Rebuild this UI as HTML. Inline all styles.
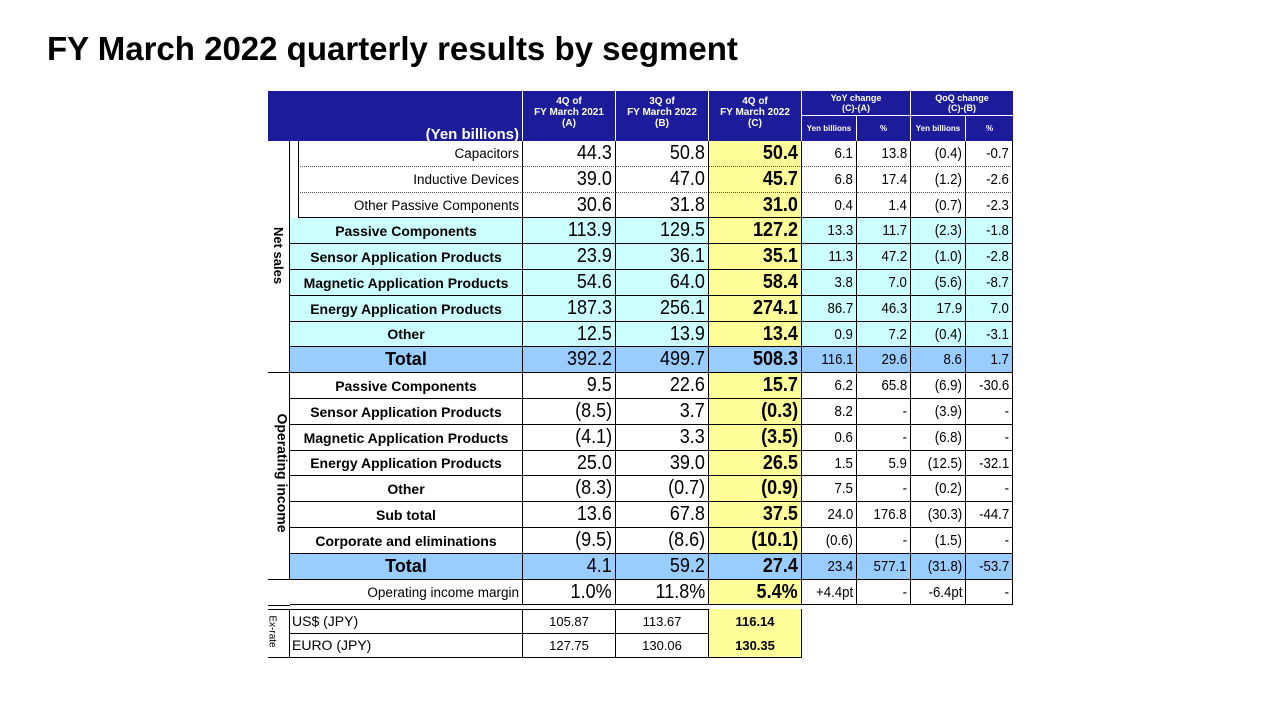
<!DOCTYPE html>
<html><head><meta charset="utf-8">
<style>
body{margin:0;width:1281px;height:720px;background:#fff;position:relative;overflow:hidden;font-family:"Liberation Sans",Arial,sans-serif;}
.t{position:absolute;left:47px;top:30px;font-size:33px;font-weight:bold;color:#000;}
.c{position:absolute;box-sizing:border-box;display:flex;align-items:center;white-space:nowrap;overflow:visible;color:#000;}
.r{justify-content:flex-end;padding-right:3px;}
.m{justify-content:center;}
.n{transform-origin:right center;}
.h{color:#fff;font-weight:bold;justify-content:center;text-align:center;line-height:11px;font-size:10px;background:#1c1c9a;}
.vl{position:absolute;font-weight:bold;font-size:13px;transform:rotate(90deg);white-space:nowrap;}
</style></head><body>
<div class="t">FY March 2022 quarterly results by segment</div>
<div id="tbl"></div>
<script>
const X=[268,290,523,616,709,802,857,911,966,1013];
const names=["Capacitors","Inductive Devices","Other Passive Components","Passive Components","Sensor Application Products","Magnetic Application Products","Energy Application Products","Other","Total","Passive Components","Sensor Application Products","Magnetic Application Products","Energy Application Products","Other","Sub total","Corporate and eliminations","Total","Operating income margin"];
const colA=["44.3","39.0","30.6","113.9","23.9","54.6","187.3","12.5","392.2","9.5","(8.5)","(4.1)","25.0","(8.3)","13.6","(9.5)","4.1","1.0%"];
const colB=["50.8","47.0","31.8","129.5","36.1","64.0","256.1","13.9","499.7","22.6","3.7","3.3","39.0","(0.7)","67.8","(8.6)","59.2","11.8%"];
const colC=["50.4","45.7","31.0","127.2","35.1","58.4","274.1","13.4","508.3","15.7","(0.3)","(3.5)","26.5","(0.9)","37.5","(10.1)","27.4","5.4%"];
const yoyAmt=["6.1","6.8","0.4","13.3","11.3","3.8","86.7","0.9","116.1","6.2","8.2","0.6","1.5","7.5","24.0","(0.6)","23.4","+4.4pt"];
const yoyPct=["13.8","17.4","1.4","11.7","47.2","7.0","46.3","7.2","29.6","65.8","-","-","5.9","-","176.8","-","577.1","-"];
const qoqAmt=["(0.4)","(1.2)","(0.7)","(2.3)","(1.0)","(5.6)","17.9","(0.4)","8.6","(6.9)","(3.9)","(6.8)","(12.5)","(0.2)","(30.3)","(1.5)","(31.8)","-6.4pt"];
const qoqPct=["-0.7","-2.6","-2.3","-1.8","-2.8","-8.7","7.0","-3.1","1.7","-30.6","-","-","-32.1","-","-44.7","-","-53.7","-"];
const rateNames=["US$ (JPY)","EURO (JPY)"];
const rateA=["105.87","127.75"],rateB=["113.67","130.06"],rateC=["116.14","130.35"];
const T=document.getElementById('tbl');
function cell(x,y,w,h,txt,cls,css,name){const d=document.createElement('div');d.className='c '+(cls||'');d.style.cssText=`left:${x}px;top:${y}px;width:${w}px;height:${h}px;`+(css||'');d.innerHTML=txt;


T.appendChild(d);return d;}
// header
cell(X[0],91,X[2]-X[0],50,'<span style="position:absolute;right:3px;bottom:1px;font-size:15px">(Yen billions)</span>','h','border-right:1px solid #fff;','header-unit');
const hd=["4Q of<br>FY March 2021<br>(A)","3Q of<br>FY March 2022<br>(B)","4Q of<br>FY March 2022<br>(C)"];
for(let i=0;i<3;i++)cell(X[2+i],91,X[3+i]-X[2+i],50,`<div style="padding-top:5px">${hd[i]}</div>`,'h','border-right:1px solid #fff;align-items:flex-start;','header-period');
cell(X[5],91,X[7]-X[5],25,'YoY change<br>(C)-(A)','h','font-size:9px;line-height:10px;border-right:1px solid #fff;border-bottom:1px solid #fff;','header-yoy');
cell(X[7],91,X[9]-X[7],25,'QoQ change<br>(C)-(B)','h','font-size:9px;line-height:10px;border-bottom:1px solid #fff;','header-qoq');
const sub=["Yen billions","%","Yen billions","%"];
for(let i=0;i<4;i++)cell(X[5+i],116,X[6+i]-X[5+i],25,sub[i],'h','font-size:8px;border-right:'+(i<3?'1px solid #fff':'0')+';','header-sub');
const rowTop=141,rh=25.8;
for(let i=0;i<names.length;i++){
 const y=Math.round(rowTop+i*rh),h=Math.round(rowTop+(i+1)*rh)-y;
 const sub3=i<3, tot=(i==8||i==16), cyan=(i>=3&&i<8), marg=i==17;
 const bg=tot?'#99ccff':cyan?'#ccffff':'#fff';
 const bb=(i<2)?'border-bottom:1px dotted #555;':'border-bottom:1px solid #000;';
 const nx=sub3?298:X[1];
 let ncss=`background:${bg};${bb}border-right:1px solid #000;`;
 if(sub3)ncss+='border-left:1px solid #000;';
 let ncls,nfs;
 if(sub3||marg){ncls='r';nfs='font-size:13.5px;';}else{ncls='m';nfs=tot?'font-size:18px;font-weight:bold;':'font-size:14px;font-weight:bold;';}
 cell(nx,y,X[2]-nx,h,names[i],ncls,ncss+nfs,'row-label');
 if(sub3&&i<2)cell(X[1],y,8,h,'','', 'background:#fff;','row-indent');
 const vals=[colA[i],colB[i],colC[i],yoyAmt[i],yoyPct[i],qoqAmt[i],qoqPct[i]];
 for(let j=0;j<7;j++){
  let cbg=(j==2&&!tot)?'#ffff99':bg;
  let fs=j<3?'font-size:20px;':'font-size:15px;';
  if(j==2)fs+='font-weight:bold;';
  cell(X[2+j],y,X[3+j]-X[2+j],h,`<span class="n" style="display:inline-block;transform:scaleX(${j<3?0.9:0.88})">${vals[j]}</span>`,'r',`background:${cbg};${bb}border-right:1px solid #000;${fs}`,'value-cell');
 }
}
// side labels
cell(X[0],141,X[1]-X[0],Math.round(rowTop+9*rh)-141,'','', 'border-bottom:1px solid #000;border-right:1px solid #000;','net-sales-group');
cell(X[0],Math.round(rowTop+9*rh),X[1]-X[0],Math.round(rowTop+17*rh)-Math.round(rowTop+9*rh),'','', 'border-bottom:1px solid #000;border-right:1px solid #000;','operating-income-group');
cell(X[0],Math.round(rowTop+17*rh),X[1]-X[0],26,'','', 'border-bottom:1px solid #000;','margin-blank');
const l1=document.createElement('div');l1.className='vl';l1.textContent='Net sales';l1.style.cssText='left:250px;top:248px;';


T.appendChild(l1);
const l2=document.createElement('div');l2.className='vl';l2.textContent='Operating income';l2.style.cssText='left:223px;top:465px;font-size:14px;';


T.appendChild(l2);
// ex-rate
cell(X[0],609,X[5]-X[0],1,'','','border-top:1px solid #000;','exrate-top');
for(let i=0;i<2;i++){
 const y=609+i*24.5|0,h=25;
 cell(X[1],y,X[2]-X[1],h,rateNames[i],'','font-size:14px;padding-left:2px;border-right:1px solid #000;border-bottom:1px solid #000;','rate-label');
 const rv=[rateA[i],rateB[i],rateC[i]];
 for(let j=0;j<3;j++)cell(X[2+j],y,X[3+j]-X[2+j],h,rv[j],'m',`font-size:13px;border-right:1px solid #000;border-bottom:1px solid #000;${j==2?'background:#ffff99;font-weight:bold;':''}`,'rate-value');
}
cell(X[0],609,X[1]-X[0],49,'','','border-right:1px solid #000;border-bottom:1px solid #000;','exrate-group');
const l3=document.createElement('div');l3.className='vl';l3.textContent='Ex-rate';l3.style.cssText='left:256px;top:626px;font-size:10px;font-weight:normal;';


T.appendChild(l3);
</script>
</body></html>
